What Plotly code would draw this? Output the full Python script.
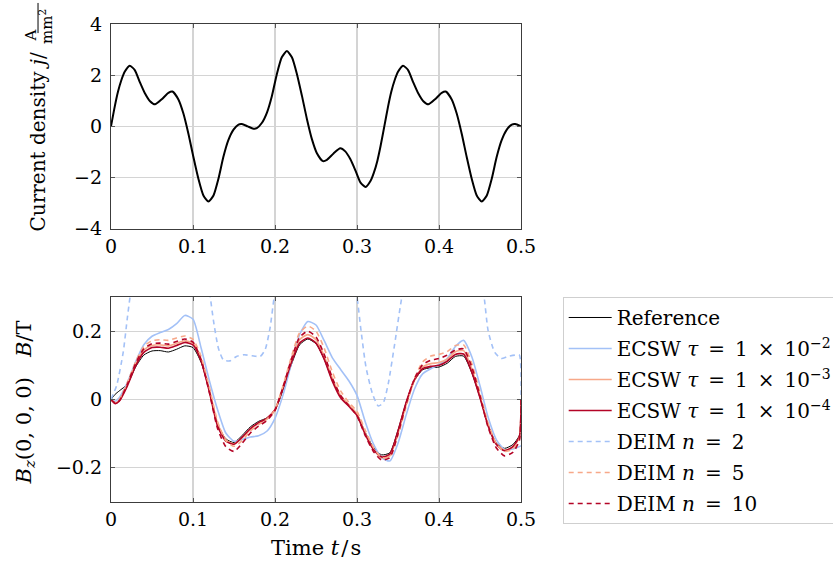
import plotly.graph_objects as go

# ---------------------------------------------------------------------------
# Excitation: current density j(t) in A/mm^2
# ---------------------------------------------------------------------------
time_current = [
    0.0, 0.0045, 0.0085, 0.0126, 0.0167, 0.0228, 0.029, 0.035, 0.0415, 0.0476,
    0.0537, 0.0619, 0.070, 0.0749, 0.0822, 0.0883, 0.0944, 0.1005, 0.1066, 0.1127,
    0.1188, 0.125, 0.131, 0.137, 0.143, 0.1494, 0.1555, 0.1596, 0.1667,
    0.1737, 0.1778, 0.1839, 0.1903, 0.1963, 0.2023, 0.2083, 0.2145, 0.2206, 0.2267,
    0.2328, 0.2389, 0.245,
    0.2511, 0.2584, 0.2633, 0.2714, 0.2796, 0.2857, 0.2918, 0.2983, 0.3043, 0.3105,
    0.3166, 0.3207, 0.3248, 0.3288, 0.3333,
    0.3378, 0.3418, 0.3459, 0.35, 0.3561, 0.3623, 0.3683, 0.3748, 0.3809, 0.387,
    0.3952, 0.4033, 0.4082, 0.4155, 0.4216, 0.4277, 0.4338, 0.4399, 0.446, 0.4521,
    0.4583, 0.4643, 0.4703, 0.4763, 0.4827, 0.4888, 0.4929, 0.5,
]
current_density = [
    0.00, 0.76, 1.35, 1.80, 2.13, 2.37, 2.20, 1.74, 1.28, 0.98,
    0.86, 1.06, 1.31, 1.36, 1.05, 0.50, -0.29, -1.20, -2.05, -2.70,
    -2.94, -2.70, -2.05, -1.20, -0.55, -0.13, 0.07, 0.09, 0.00,
    -0.09, -0.07, 0.13, 0.55, 1.20, 2.05, 2.70, 2.94, 2.70, 2.05,
    1.20, 0.29, -0.50,
    -1.05, -1.36, -1.31, -1.06, -0.86, -0.98, -1.28, -1.74, -2.20, -2.37,
    -2.13, -1.80, -1.35, -0.76, 0.00,
    0.76, 1.35, 1.80, 2.13, 2.37, 2.20, 1.74, 1.28, 0.98, 0.86,
    1.06, 1.31, 1.36, 1.05, 0.50, -0.29, -1.20, -2.05, -2.70, -2.94,
    -2.70, -2.05, -1.20, -0.55, -0.13, 0.07, 0.09, 0.00,
]

# ---------------------------------------------------------------------------
# Response: B_z(0,0,0) in T for the full model and the hyper-reduced models
# ---------------------------------------------------------------------------
time_b = [
    0.0, 0.005, 0.01, 0.02, 0.03, 0.04, 0.05, 0.06, 0.07, 0.08,
    0.09, 0.10, 0.11, 0.12, 0.13, 0.14, 0.15, 0.16, 0.17, 0.18,
    0.19, 0.20, 0.21, 0.22, 0.23, 0.24, 0.25, 0.26, 0.27, 0.28,
    0.29, 0.30, 0.31, 0.32, 0.33, 0.34, 0.35, 0.36, 0.37, 0.38,
    0.39, 0.40, 0.41, 0.42, 0.43, 0.44, 0.45, 0.46, 0.47, 0.48,
    0.49, 0.498, 0.5,
]
b_reference = [
    0.000, 0.015, 0.025, 0.045, 0.095, 0.130, 0.142, 0.143, 0.139, 0.147,
    0.157, 0.152, 0.108, 0.025, -0.072, -0.115, -0.126, -0.105, -0.080, -0.064,
    -0.054, -0.032, 0.030, 0.102, 0.160, 0.177, 0.163, 0.118, 0.055, 0.008,
    -0.016, -0.042, -0.096, -0.140, -0.162, -0.156, -0.090, -0.008, 0.055, 0.087,
    0.093, 0.095, 0.106, 0.126, 0.127, 0.078, 0.005, -0.075, -0.128, -0.143,
    -0.132, -0.105, 0.000,
]
b_ecsw_1e2 = [
    0.000, -0.005, 0.005, 0.050, 0.110, 0.160, 0.185, 0.196, 0.205, 0.222,
    0.246, 0.235, 0.150, 0.055, -0.030, -0.098, -0.122, -0.117, -0.110, -0.106,
    -0.093, -0.055, 0.015, 0.105, 0.190, 0.228, 0.218, 0.172, 0.122, 0.088,
    0.055, 0.012, -0.065, -0.130, -0.170, -0.180, -0.128, -0.045, 0.030, 0.075,
    0.090, 0.102, 0.120, 0.155, 0.173, 0.125, 0.040, -0.053, -0.118, -0.146,
    -0.145, -0.138, -0.135,
]
b_ecsw_1e3 = [
    0.000, -0.010, -0.003, 0.045, 0.105, 0.145, 0.158, 0.160, 0.157, 0.164,
    0.172, 0.165, 0.118, 0.030, -0.070, -0.118, -0.130, -0.112, -0.088, -0.070,
    -0.056, -0.030, 0.038, 0.115, 0.175, 0.190, 0.175, 0.128, 0.062, 0.012,
    -0.015, -0.042, -0.098, -0.145, -0.170, -0.165, -0.100, -0.015, 0.055, 0.095,
    0.105, 0.108, 0.118, 0.140, 0.143, 0.090, 0.010, -0.075, -0.130, -0.148,
    -0.140, -0.110, 0.000,
]
b_ecsw_1e4 = [
    0.000, -0.012, -0.005, 0.040, 0.098, 0.138, 0.152, 0.153, 0.150, 0.158,
    0.167, 0.160, 0.112, 0.022, -0.078, -0.122, -0.131, -0.110, -0.085, -0.068,
    -0.055, -0.030, 0.035, 0.108, 0.165, 0.180, 0.165, 0.118, 0.053, 0.005,
    -0.020, -0.047, -0.102, -0.146, -0.168, -0.160, -0.092, -0.008, 0.058, 0.090,
    0.097, 0.100, 0.112, 0.132, 0.133, 0.080, 0.005, -0.078, -0.132, -0.150,
    -0.138, -0.108, 0.000,
]
b_deim_5 = [
    0.000, -0.008, 0.000, 0.050, 0.110, 0.155, 0.172, 0.175, 0.173, 0.180,
    0.186, 0.176, 0.125, 0.035, -0.065, -0.120, -0.137, -0.120, -0.092, -0.073,
    -0.058, -0.030, 0.042, 0.125, 0.195, 0.215, 0.200, 0.150, 0.080, 0.025,
    -0.008, -0.035, -0.090, -0.140, -0.170, -0.168, -0.105, -0.020, 0.060, 0.110,
    0.127, 0.132, 0.140, 0.158, 0.160, 0.105, 0.020, -0.070, -0.130, -0.152,
    -0.145, -0.115, 0.000,
]
b_deim_10 = [
    0.000, -0.010, -0.004, 0.045, 0.105, 0.148, 0.163, 0.165, 0.162, 0.170,
    0.177, 0.168, 0.115, 0.020, -0.085, -0.138, -0.152, -0.128, -0.098, -0.078,
    -0.062, -0.032, 0.038, 0.118, 0.182, 0.200, 0.183, 0.132, 0.062, 0.012,
    -0.018, -0.048, -0.105, -0.152, -0.177, -0.170, -0.100, -0.012, 0.060, 0.102,
    0.115, 0.120, 0.130, 0.145, 0.148, 0.095, 0.010, -0.082, -0.142, -0.165,
    -0.155, -0.120, 0.000,
]
# DEIM with n = 2 leaves the plotted range, so it has its own time samples
time_deim_2 = [
    0.0, 0.007, 0.015, 0.020, 0.025, 0.035, 0.050, 0.070, 0.090, 0.105,
    0.115, 0.121, 0.125, 0.131, 0.137, 0.145, 0.153, 0.162, 0.172, 0.182,
    0.188, 0.194, 0.199, 0.210, 0.230, 0.250, 0.270, 0.285, 0.295, 0.300,
    0.305, 0.311, 0.319, 0.326, 0.332, 0.338, 0.346, 0.354, 0.365, 0.380,
    0.400, 0.420, 0.440, 0.450, 0.455, 0.460, 0.468, 0.476, 0.484, 0.493,
    0.498, 0.500,
]
b_deim_2 = [
    0.000, 0.042, 0.14, 0.24, 0.33, 0.45, 0.58, 0.65, 0.62, 0.50,
    0.38, 0.30, 0.23, 0.15, 0.116, 0.113, 0.126, 0.131, 0.128, 0.126,
    0.146, 0.21, 0.30, 0.45, 0.60, 0.62, 0.55, 0.45, 0.36, 0.30,
    0.20, 0.094, 0.016, -0.019, -0.010, 0.045, 0.163, 0.29, 0.42, 0.55,
    0.62, 0.60, 0.45, 0.36, 0.30, 0.20, 0.138, 0.12, 0.126, 0.13,
    0.13, 0.000,
]

time_ticks = [0, 0.1, 0.2, 0.3, 0.4, 0.5]
current_ticks = [-4, -2, 0, 2, 4]
b_ticks = [-0.2, 0, 0.2]

FONT = "DejaVu Serif"
BLUE = "#a3c1f7"
ORANGE = "#f7a889"
RED = "#b40426"
SP = "\u2002"  # en space around relation / binary operators

fig = go.Figure()

fig.add_trace(go.Scatter(
    x=time_current, y=current_density, mode="lines", showlegend=False,
    line=dict(color="black", width=2, shape="spline", smoothing=0.6),
    xaxis="x", yaxis="y",
))

def ecsw_label(exp):
    return f"ECSW <i>τ</i>{SP}={SP}1{SP}×{SP}10<sup>−{exp}</sup>"

def deim_label(n):
    return f"DEIM <i>n</i>{SP}={SP}{n}"

b_series = [
    ("Reference", time_b, b_reference, "black", 1.0, "solid"),
    (ecsw_label(2), time_b, b_ecsw_1e2, BLUE, 1.6, "solid"),
    (ecsw_label(3), time_b, b_ecsw_1e3, ORANGE, 1.6, "solid"),
    (ecsw_label(4), time_b, b_ecsw_1e4, RED, 1.6, "solid"),
    (deim_label(2), time_deim_2, b_deim_2, BLUE, 1.6, "5px,4px"),
    (deim_label(5), time_b, b_deim_5, ORANGE, 1.6, "5px,4px"),
    (deim_label(10), time_b, b_deim_10, RED, 1.6, "5px,4px"),
]
for i, (name, tx, vals, color, width, dash) in enumerate(b_series):
    fig.add_trace(go.Scatter(
        x=tx, y=vals, mode="lines", name=name, legendgroup=f"g{i}",
        line=dict(color=color, width=width, dash=dash, shape="spline", smoothing=0.6),
        xaxis="x2", yaxis="y2",
    ))

axis_style = dict(
    showline=True, linecolor="#3c3c3c", linewidth=1.2, mirror="ticks",
    ticks="inside", ticklen=4, tickwidth=1.2, tickcolor="#555555",
    showgrid=True, gridcolor="#d4d4d4", zeroline=False,
    tickfont=dict(family=FONT, size=19, color="black"),
)

fig.update_layout(
    width=833, height=568,
    margin=dict(l=111, r=312, t=24, b=66, autoexpand=False),
    paper_bgcolor="white", plot_bgcolor="white",
    font=dict(family=FONT, size=19, color="black"),
    xaxis=dict(domain=[0, 1], anchor="y", range=[0, 0.5], tickvals=time_ticks,
               gridwidth=1.5, **axis_style),
    yaxis=dict(domain=[0.5718, 1.0], anchor="x", range=[-4, 4], tickvals=current_ticks,
               gridwidth=1, ticklabelstandoff=4, **axis_style),
    xaxis2=dict(domain=[0, 1], anchor="y2", range=[0, 0.5], tickvals=time_ticks,
                gridwidth=1.5, **axis_style),
    yaxis2=dict(domain=[0, 0.4289], anchor="x2", range=[-0.3, 0.3], tickvals=b_ticks,
                gridwidth=1, ticklabelstandoff=4, **axis_style),
    legend=dict(
        x=1.1017, y=0.4289, xanchor="left", yanchor="top",
        bgcolor="white", bordercolor="#cfcfcf", borderwidth=1,
        font=dict(family=FONT, size=20, color="black"),
        tracegroupgap=2, itemwidth=43,
    ),
)

# Axis titles
title_font = dict(family=FONT, size=21, color="black")
frac_font = dict(family=FONT, size=15, color="black")
fig.add_annotation(text="Current density <i>j</i>/", xref="paper", yref="paper",
                   x=-0.177, y=0.7552, textangle=-90, showarrow=False,
                   font=dict(family=FONT, size=20, color="black"),
                   xanchor="center", yanchor="middle")
fig.add_annotation(text="A", xref="paper", yref="paper",
                   x=-0.1951, y=0.976, textangle=-90, showarrow=False,
                   font=frac_font, xanchor="center", yanchor="middle")
fig.add_annotation(text="mm<sup>2</sup>", xref="paper", yref="paper",
                   x=-0.1585, y=0.9937, textangle=-90, showarrow=False,
                   font=frac_font, xanchor="center", yanchor="middle")
fig.add_shape(type="line", xref="paper", yref="paper",
              x0=-0.178, x1=-0.178, y0=0.981, y1=1.044,
              line=dict(color="black", width=1))
fig.add_annotation(text="<i>B<sub>z</sub></i>(0, 0, 0)   <i>B</i>/T", xref="paper", yref="paper",
                   x=-0.2098, y=0.2082, textangle=-90, showarrow=False,
                   font=title_font, xanchor="center", yanchor="middle")
fig.add_annotation(text="Time <i>t</i>\u200a/\u200as", xref="paper", yref="paper",
                   x=0.5, y=-0.0962, showarrow=False,
                   font=title_font, xanchor="center", yanchor="middle")

fig.write_html("out.html")
